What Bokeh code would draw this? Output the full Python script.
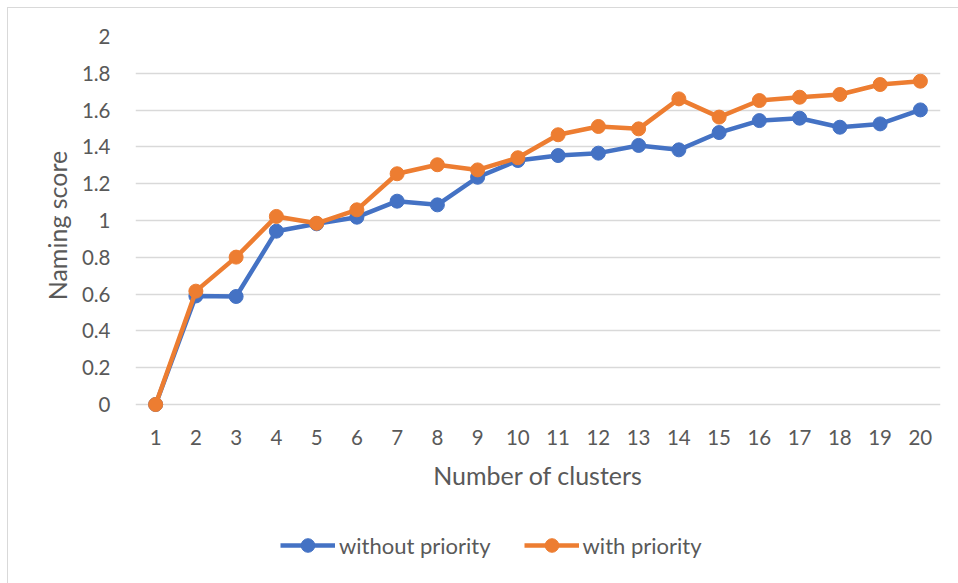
from bokeh.plotting import figure
from bokeh.layouts import column
from bokeh.models import Range1d, FixedTicker, Legend, LegendItem
from bokeh.embed import file_html
from bokeh.resources import INLINE

# ---- data ----
clusters = list(range(1, 21))
without_priority = [0.0, 0.590, 0.587, 0.942, 0.982, 1.018, 1.105, 1.085, 1.235, 1.326,
                    1.353, 1.366, 1.408, 1.384, 1.478, 1.543, 1.556, 1.507, 1.525, 1.601]
with_priority = [0.0, 0.616, 0.801, 1.022, 0.985, 1.058, 1.254, 1.303, 1.275, 1.341,
                 1.466, 1.511, 1.498, 1.661, 1.562, 1.652, 1.670, 1.685, 1.739, 1.757]
y_ticks = [0, 0.2, 0.4, 0.6, 0.8, 1, 1.2, 1.4, 1.6, 1.8, 2]
y_tick_labels = ["0", "0.2", "0.4", "0.6", "0.8", "1", "1.2", "1.4", "1.6", "1.8", "2"]
x_tick_labels = [str(c) for c in clusters]
series_names = ["without priority", "with priority"]

# ---- style ----
FONT = "Lato"
TXT = "#595959"
GRID = "#d9d9d9"
BLUE = "#4472C4"
ORANGE = "#ED7D31"

px_per_unit = 184
pad_px = 10

p = figure(frame_width=805, frame_height=368 + pad_px,
           x_range=Range1d(0.5, 20.5), y_range=Range1d(-pad_px / px_per_unit, 2),
           output_backend="svg", toolbar_location=None,
           min_border_left=127, min_border_right=18, min_border_top=28, min_border_bottom=90)
p.outline_line_color = None
p.background_fill_color = "white"
p.border_fill_color = "white"

p.xgrid.visible = False
p.ygrid.ticker = FixedTicker(ticks=y_ticks)
p.ygrid.grid_line_color = GRID
p.ygrid.grid_line_width = 1.3

p.yaxis.ticker = FixedTicker(ticks=y_ticks)
p.yaxis.major_label_overrides = dict(zip(y_ticks, y_tick_labels))
p.xaxis.ticker = FixedTicker(ticks=clusters)
p.xaxis.major_label_overrides = dict(zip(clusters, x_tick_labels))

for ax in (p.xaxis[0], p.yaxis[0]):
    ax.axis_line_color = None
    ax.major_tick_line_color = None
    ax.minor_tick_line_color = None
    ax.major_label_text_font = FONT
    ax.major_label_text_font_size = "20.5px"
    ax.major_label_text_color = TXT
    ax.axis_label_text_font = FONT
    ax.axis_label_text_font_size = "25px"
    ax.axis_label_text_font_style = "normal"
    ax.axis_label_text_color = TXT

p.yaxis.major_label_standoff = 19
p.yaxis.axis_label = "Naming score"
p.yaxis.axis_label_standoff = 7
p.xaxis.major_label_standoff = 9
p.xaxis.axis_label = "Number of clusters"
p.xaxis.axis_label_standoff = 12

p.line(clusters, without_priority, line_width=4.5, color=BLUE)
p.scatter(clusters, without_priority, size=14, color=BLUE)
p.line(clusters, with_priority, line_width=4.5, color=ORANGE)
p.scatter(clusters, with_priority, size=14, color=ORANGE)

# ---- legend strip below the chart (series drawn out of view, only the legend shows) ----
lf = figure(width=950, height=79, x_range=Range1d(0.5, 20.5), y_range=Range1d(10, 11),
            output_backend="svg", toolbar_location=None, min_border=0)
lf.axis.visible = False
lf.grid.visible = False
lf.outline_line_color = None
lf.border_fill_color = "white"
lf.background_fill_color = "white"
ll1 = lf.line(clusters, without_priority, line_width=4.5, color=BLUE)
ls1 = lf.scatter(clusters, without_priority, size=14, color=BLUE)
ll2 = lf.line(clusters, with_priority, line_width=4.5, color=ORANGE)
ls2 = lf.scatter(clusters, with_priority, size=14, color=ORANGE)

legend = Legend(items=[LegendItem(label=series_names[0], renderers=[ll1, ls1]),
                       LegendItem(label=series_names[1], renderers=[ll2, ls2])],
                orientation="horizontal", location=(145, 21),
                glyph_width=55, glyph_height=34, label_height=24, label_standoff=4,
                spacing=33, padding=0, margin=0,
                border_line_color=None, background_fill_color=None,
                label_text_font=FONT, label_text_font_size="22px", label_text_color=TXT)
lf.add_layout(legend, "center")

layout = column(p, lf, spacing=0,
                styles={"margin-left": "7px", "margin-top": "7px",
                        "border-left": "1px solid #d9d9d9", "border-top": "1px solid #d9d9d9"})

open("out.html", "w").write(file_html(layout, INLINE))
